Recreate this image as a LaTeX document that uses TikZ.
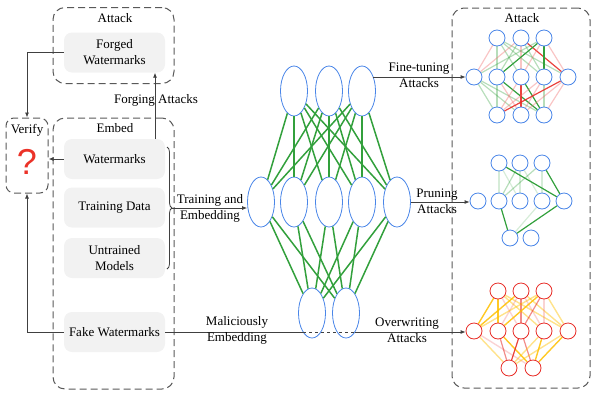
\documentclass[tikz,border=0pt]{standalone}
\usepackage{fontspec}
\setmainfont{Liberation Serif}
\newfontfamily\qfont{Liberation Sans}
\usetikzlibrary{shapes.geometric,arrows.meta,decorations.pathreplacing,backgrounds,calc}
\definecolor{nnblue}{RGB}{74,134,232}
\definecolor{nnred}{RGB}{232,45,40}
\definecolor{nngreen}{RGB}{50,160,60}
\definecolor{nnorange}{RGB}{255,192,0}
\definecolor{nnpink}{RGB}{240,110,110}
\definecolor{qred}{RGB}{235,50,40}
\definecolor{boxgray}{RGB}{242,242,242}
\tikzset{
  dbox/.style={draw=black!65, dash pattern=on 7pt off 4pt, line width=1pt, rounded corners=12pt, inner sep=0pt},
  gbox/.style={fill=boxgray, rounded corners=8pt, minimum width=101pt, minimum height=40pt, align=center, inner sep=0pt},
  ell/.style={ellipse, draw=nnblue, line width=0.8pt, minimum width=27pt, minimum height=50pt, inner sep=0pt},
  bc/.style={circle, draw=nnblue, fill=white, line width=0.8pt, minimum size=16pt, inner sep=0pt},
  rc/.style={circle, draw=nnred, fill=white, line width=0.8pt, minimum size=16pt, inner sep=0pt},
  conn/.style={draw=black!75, line width=0.8pt},
  arr/.style={conn, -{Latex[length=5pt,width=4pt]}},
  lbl/.style={align=center, inner sep=0pt},
  gline/.style={draw=nngreen, line width=1.5pt},
  eRS/.style={draw=nnred, opacity=0.9, line width=1.2pt},
  eRM/.style={draw=nnred, opacity=0.55, line width=1.2pt},
  eRL/.style={draw=nnpink, opacity=0.4, line width=1.2pt},
  eGS/.style={draw=nngreen, line width=1.2pt},
  eGL/.style={draw=nngreen, opacity=0.35, line width=1.2pt},
  eGF/.style={draw=nngreen, opacity=0.2, line width=1.2pt},
  eYS/.style={draw=nnorange, opacity=0.85, line width=1.4pt},
  eYL/.style={draw=nnorange, opacity=0.45, line width=1.4pt},
  ePL/.style={draw=nnpink, opacity=0.3, line width=1.4pt},
}
\begin{document}
\begin{tikzpicture}[x=1pt,y=-1pt,font=\fontsize{13}{16}\selectfont]
\useasboundingbox (0,0) rectangle (600,400);

% dashed frames
\node[dbox, minimum width=121pt, minimum height=76pt] (atkL) at (113.5,45.5) {};
\node[dbox, minimum width=121pt, minimum height=271pt] (emb) at (113.5,253.5) {};
\node[dbox, minimum width=42pt, minimum height=75pt, rounded corners=8pt] (verify) at (27,155.5) {};
\node[dbox, minimum width=138pt, minimum height=380pt] (atkR) at (521,198) {};

\node[lbl] (atkLt) at (115,18) {Attack};
\node[lbl] (embt) at (115,128) {Embed};
\node[lbl] (vert) at (27,130) {Verify};
\node[lbl, text=qred, font=\qfont\fontsize{36}{38}\selectfont] (qm) at (27,162) {?};
\node[lbl] (atkRt) at (522,18) {Attack};

% gray boxes
\node[gbox] (forged) at (114.5,52.5) {Forged\\Watermarks};
\node[gbox] (wm) at (114.5,159) {Watermarks};
\node[gbox] (td) at (114.5,207.5) {Training Data};
\node[gbox] (um) at (114.5,258) {Untrained\\Models};
\node[gbox] (fake) at (114.5,332) {Fake Watermarks};

% middle network
\node[ell] (t1) at (294,91) {};
\node[ell] (t2) at (329,91) {};
\node[ell] (t3) at (362,91) {};
\node[ell] (m1) at (261,202) {};
\node[ell] (m2) at (294,202) {};
\node[ell] (m3) at (329,202) {};
\node[ell] (m4) at (362,202) {};
\node[ell] (m5) at (397,202) {};
\node[ell] (b1) at (312,313) {};
\node[ell] (b2) at (346,313) {};
\foreach \a in {t1,t2,t3}{\foreach \b in {m1,m2,m3,m4,m5}{\draw[gline] (\a) -- (\b);}}
\foreach \a in {m1,m2,m3,m4,m5}{\foreach \b in {b1,b2}{\draw[gline] (\a) -- (\b);}}

% fine-tuning network
\node[bc] (ft1) at (497,38) {};
\node[bc] (ft2) at (521,38) {};
\node[bc] (ft3) at (544,38) {};
\node[bc] (fm1) at (474,77) {};
\node[bc] (fm2) at (497,77) {};
\node[bc] (fm3) at (521,77) {};
\node[bc] (fm4) at (544,77) {};
\node[bc] (fm5) at (568,77) {};
\node[bc] (fb1) at (497,115) {};
\node[bc] (fb2) at (521,115) {};
\node[bc] (fb3) at (544,115) {};

% pruning network
\node[bc] (pt1) at (499,163) {};
\node[bc] (pt2) at (520,163) {};
\node[bc] (pt3) at (542,163) {};
\node[bc] (pm1) at (478,201) {};
\node[bc] (pm2) at (499,201) {};
\node[bc] (pm3) at (520,201) {};
\node[bc] (pm4) at (542,201) {};
\node[bc] (pm5) at (564,201) {};
\node[bc] (pb1) at (510,238) {};
\node[bc] (pb2) at (531,238) {};

% overwriting network
\node[rc] (ot1) at (498,291) {};
\node[rc] (ot2) at (521,291) {};
\node[rc] (ot3) at (544,291) {};
\node[rc] (om1) at (474,331) {};
\node[rc] (om2) at (498,331) {};
\node[rc] (om3) at (521,331) {};
\node[rc] (om4) at (544,331) {};
\node[rc] (om5) at (568,331) {};
\node[rc] (ob1) at (509,368) {};
\node[rc] (ob2) at (533,368) {};

\begin{scope}[on background layer]
\foreach \a/\b/\s in {ft1/fm1/eRL, ft1/fm2/eGL, ft1/fm3/eGL, ft1/fm4/eGL, ft1/fm5/eGL,
  ft2/fm1/eRL, ft2/fm2/eGL, ft2/fm3/eRL, ft2/fm4/eGL, ft2/fm5/eRS,
  ft3/fm1/eGL, ft3/fm2/eGS, ft3/fm3/eRL, ft3/fm4/eGS, ft3/fm5/eRL,
  fm1/fb1/eGL, fm1/fb2/eGL, fm1/fb3/eGL, fm2/fb1/eGL, fm2/fb2/eRL, fm2/fb3/eGS,
  fm3/fb1/eRL, fm3/fb2/eRS, fm3/fb3/eGS, fm4/fb1/eRL, fm4/fb2/eRL, fm4/fb3/eGL,
  fm5/fb1/eRS, fm5/fb2/eRL, fm5/fb3/eRL}
  {\draw[\s] (\a) -- (\b);}
\foreach \a/\b/\s in {pt1/pm5/eGS, pt3/pm5/eGS, pm2/pb1/eGS, pm5/pb1/eGS,
  pt1/pm2/eGF, pt2/pm2/eGL, pt3/pm2/eGL, pt2/pm3/eGF, pt2/pm4/eGF, pt3/pm4/eGF,
  pt1/pm3/eGF, pm4/pb1/eGF}
  {\draw[\s] (\a) -- (\b);}
\foreach \a/\b/\s in {ot1/om1/eYS, ot1/om2/eYS, ot1/om3/ePL, ot1/om4/eYL, ot1/om5/eYL,
  ot2/om1/eYS, ot2/om2/ePL, ot2/om3/eRM, ot2/om4/ePL, ot2/om5/eYL,
  ot3/om1/eYL, ot3/om2/eYS, ot3/om3/eRM, ot3/om4/ePL, ot3/om5/eYL,
  om1/ob1/eYL, om1/ob2/ePL, om2/ob1/eRM, om2/ob2/eYS, om3/ob1/eRS, om3/ob2/eRM,
  om4/ob1/eYL, om4/ob2/eYS, om5/ob1/eYL, om5/ob2/eYS}
  {\draw[\s] (\a) -- (\b);}
\end{scope}

% connectors on the left
\draw[arr] (forged.west) -| (verify.north);
\draw[arr] (wm.west) -- (wm.west -| verify.east);
\draw[arr] (fake.west) -| (verify.south);
\coordinate (fa) at (155,139);
\draw[arr] (fa) -- (fa |- forged.south);
\node[lbl] (falbl) at (156,100) {Forging Attacks};

% brace and training arrow
\draw[conn, decorate, decoration={brace, amplitude=5pt}] (167,147) -- (167,269);
\coordinate (btip) at (172,208);
\draw[arr] (btip) -- (btip -| m1.west);
\node[lbl] (trlbl) at (210,208) {Training and\\Embedding};

% attack arrows
\coordinate (ftstart) at (373,77);
\draw[arr] (ftstart) -- (fm1.west);
\node[lbl] (ftlbl) at (419,75) {Fine-tuning\\Attacks};
\draw[arr] (m5.east) -- (m5.east -| pm1.west);
\node[lbl] (prlbl) at (437,201) {Pruning\\Attacks};

\coordinate (ow1) at (303,332);
\coordinate (ow2) at (355,332);
\draw[conn] (fake.east) -- (ow1);
\draw[conn, dashed] (ow1) -- (ow2);
\draw[arr] (ow2) -- (ow2 -| om1.west);
\node[lbl] (mallbl) at (237,330) {Maliciously\\Embedding};
\node[lbl] (owlbl) at (407,330) {Overwriting\\Attacks};
\end{tikzpicture}
\end{document}
